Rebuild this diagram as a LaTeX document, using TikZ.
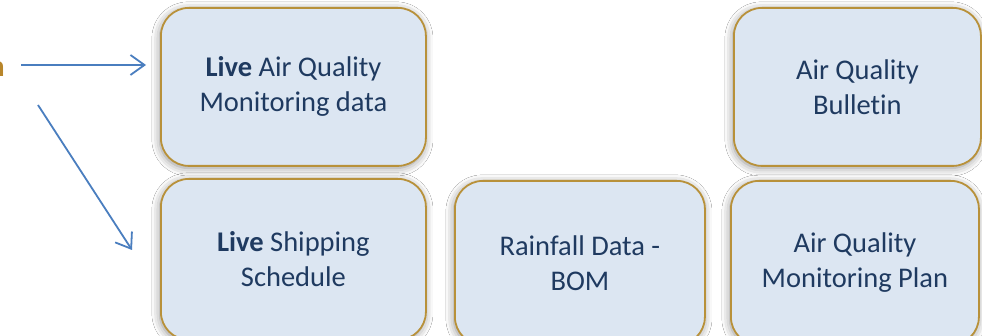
\documentclass[tikz,border=0pt]{standalone}
\usepackage{fontspec}
\setmainfont{Carlito}[Ligatures=NoCommon]
\usetikzlibrary{arrows.meta,shadows.blur}
\definecolor{boxfill}{HTML}{DCE6F2}
\definecolor{boxdraw}{HTML}{B8913A}
\definecolor{txt}{HTML}{1F3A60}
\definecolor{arrc}{HTML}{4A7EBF}
\definecolor{gold}{HTML}{B8862B}
\tikzset{
  box/.style={draw=boxdraw, fill=boxfill, line width=1.8pt, rounded corners=28pt,
    align=center, text=txt, font=\fontsize{28.5}{35}\selectfont, inner sep=0pt,
    blur shadow={shadow xshift=-1pt, shadow yshift=-2pt, shadow blur radius=8pt, shadow opacity=45}},
  arr/.style={draw=arrc, line width=1.8pt, -{Straight Barb[length=14pt,width=20pt,line width=1.8pt]}},
  srctext/.style={text=gold, font=\fontsize{30}{34}\selectfont\bfseries, inner sep=0pt}
}
\begin{document}
\begin{tikzpicture}[x=1pt,y=-1pt]
\useasboundingbox (0,0) rectangle (982,336);
\clip (0,0) rectangle (982,336);
\fill[white] (0,0) rectangle (982,336);
\node[srctext, anchor=base east] (src) at (5,77) {n};
\node[box, minimum width=265pt, minimum height=158pt, anchor=north west] (b1) at (160,7) {\textbf{Live} Air Quality\\Monitoring data};
\node[box, minimum width=265pt, minimum height=161pt, anchor=north west] (b2) at (160,178) {\textbf{Live} Shipping\\Schedule};
\node[box, minimum width=250pt, minimum height=164pt, anchor=north west] (b3) at (454,180) {Rainfall Data -\\BOM};
\node[box, minimum width=248pt, minimum height=164pt, anchor=north west] (b4) at (730,180) {Air Quality\\Monitoring Plan};
\node[box, minimum width=247pt, minimum height=158pt, anchor=north west] (b5) at (733,7) {Air Quality\\Bulletin};
\coordinate (s1) at (21,65);
\coordinate (e1) at (146,65);
\coordinate (s2) at (38,105);
\coordinate (e2) at (132,250);
\draw[arr] (s1) -- (e1);
\draw[arr] (s2) -- (e2);
\end{tikzpicture}
\end{document}
